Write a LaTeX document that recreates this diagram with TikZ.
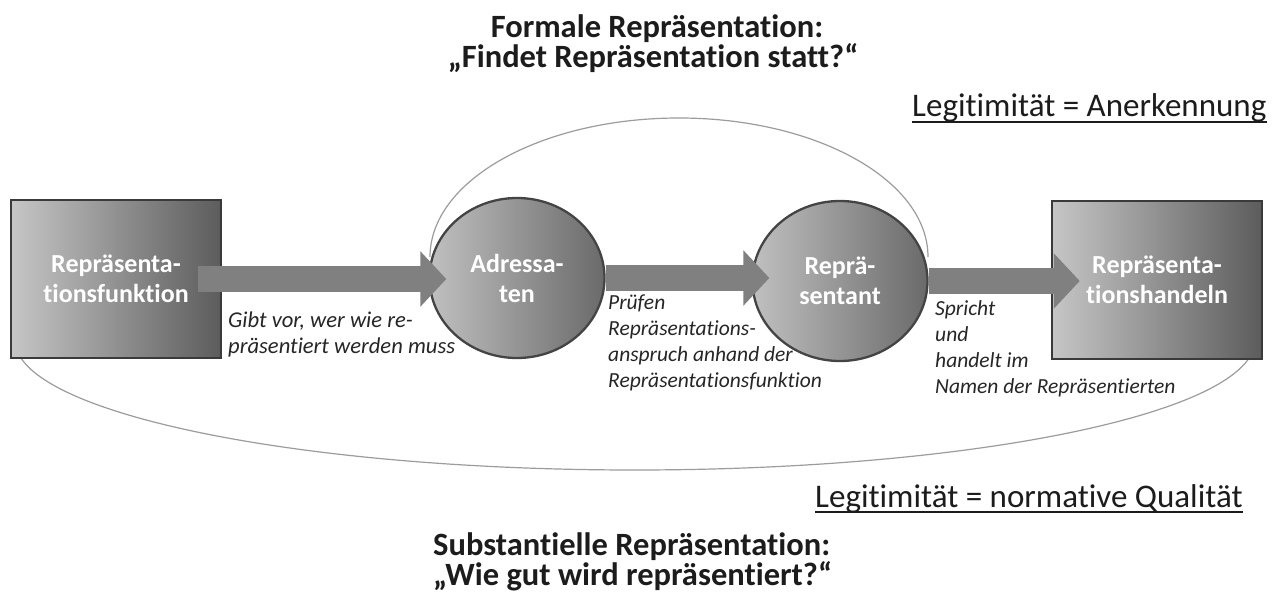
\documentclass[tikz,border=0pt]{standalone}
\usepackage{fontspec}
\setmainfont{Carlito}[Ligatures=NoCommon]
\usetikzlibrary{shapes.geometric,arrows.meta,calc}
\definecolor{boxL}{HTML}{C6C6C6}
\definecolor{boxR}{HTML}{5C5C5C}
\definecolor{boxB}{HTML}{3A3A3A}
\definecolor{cirL}{HTML}{C0C0C0}
\definecolor{cirR}{HTML}{6A6A6A}
\definecolor{cirB}{HTML}{444444}
\definecolor{arrC}{HTML}{808080}
\definecolor{arcC}{HTML}{9C9C9C}
\definecolor{txtC}{HTML}{1C1C1C}
\definecolor{lblC}{HTML}{262626}
\begin{document}
\begin{tikzpicture}[x=1pt,y=-1pt,
  sbox/.style={rectangle, draw=boxB, line width=2.5pt, left color=boxL, right color=boxR,
    minimum width=210pt, minimum height=158pt, inner sep=0pt, text=white, align=center,
    font=\bfseries\fontsize{26}{30}\selectfont},
  scirc/.style={ellipse, draw=cirB, line width=2.3pt, left color=cirL, right color=cirR,
    minimum width=175pt, minimum height=160pt, inner sep=0pt, text=white, align=center,
    font=\bfseries\fontsize{26}{30}\selectfont},
  bigarrow/.style={draw=arrC, line width=26pt, line cap=butt, -{Triangle[length=26pt,width=54pt,fill=arrC]}},
  arcline/.style={draw=arcC, line width=1.2pt},
  lbl/.style={anchor=base west, align=left, inner sep=0pt, text=lblC,
    font=\itshape\fontsize{21.5}{25.7}\selectfont},
  ttl/.style={anchor=base, inner sep=0pt, text=txtC, font=\bfseries\fontsize{32.5}{36}\selectfont},
  leg/.style={anchor=base west, inner sep=0pt, text=txtC, font=\fontsize{33}{38}\selectfont},
  uline/.style={draw=txtC, line width=2pt}
]
\useasboundingbox[fill=white] (0,0) rectangle (1280,594);

% thin arcs
\coordinate (topc) at (679,257);
\coordinate (botc) at (635,340);
\draw[arcline] ($(topc)+(-249,0)$) arc[start angle=180, end angle=360, x radius=249, y radius=139];
\draw[arcline] ($(botc)+(-620,0)$) arc[start angle=180, end angle=0, x radius=620, y radius=130];

% labels (anchored at the baseline of their last line)
\node[lbl, font=\itshape\fontsize{22.6}{26}\selectfont] (l1) at (228,353) {Gibt vor, wer wie re-\\präsentiert werden muss};
\node[lbl] (l2) at (608,387) {Prüfen\\Repräsentations-\\anspruch anhand der\\Repräsentationsfunktion};
\node[lbl] (l3) at (935,393) {Spricht\\und\\handelt im\\Namen der Repräsentierten};

% shapes
\node[sbox] (rf) at (116,279) {Repräsenta-\\tionsfunktion};
\node[scirc] (adr) at (517,278) {Adressa-\\ten};
\node[scirc] (rep) at (840,281) {Reprä-\\sentant};
\node[sbox] (rh) at (1157,280) {Repräsenta-\\tionshandeln};

% arrows
\draw[bigarrow] ([xshift=-24pt]rf.east) -- ([xshift=18pt]rf.east -| adr.west);
\draw[bigarrow] (adr.east) -- ([xshift=18pt]adr.east -| rep.west);
\draw[bigarrow] (rep.east) -- ([xshift=29pt]rep.east -| rh.west);

% titles
\node[ttl] (t1) at (657,38) {Formale Repräsentation:};
\node[ttl] (t2) at (653,68) {„Findet Repräsentation statt?“};
\node[ttl, anchor=base west] (b1) at (433,555) {Substantielle Repräsentation:};
\node[ttl, anchor=base west] (b2) at (433,585) {„Wie gut wird repräsentiert?“};

% legitimacy
\node[leg] (lg1) at (912,117) {Legitimität = Anerkennung};
\draw[uline] ([yshift=-5pt]lg1.base west) -- ([yshift=-5pt]lg1.base east);
\node[leg] (lg2) at (815,507) {Legitimität = normative Qualität};
\draw[uline] ([yshift=-5pt]lg2.base west) -- ([yshift=-5pt]lg2.base east);
\end{tikzpicture}
\end{document}
